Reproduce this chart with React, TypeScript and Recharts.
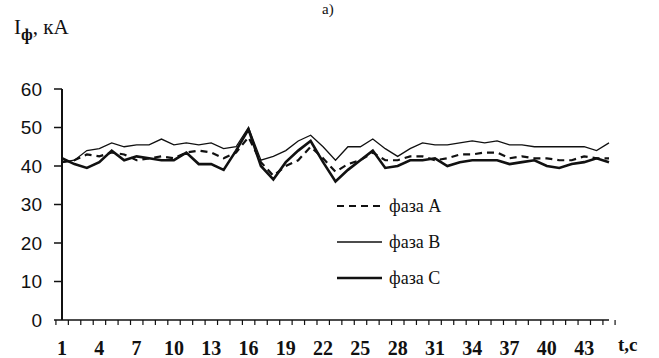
import React from 'react';
import { LineChart, Line, XAxis, YAxis, Legend } from 'recharts';

// time, s
const times = [
  1, 2, 3, 4, 5, 6, 7, 8, 9, 10, 11, 12, 13, 14, 15, 16, 17, 18, 19, 20, 21, 22, 23,
  24, 25, 26, 27, 28, 29, 30, 31, 32, 33, 34, 35, 36, 37, 38, 39, 40, 41, 42, 43, 44, 45,
];

// phase currents, kA
const phaseA = [
  41, 41.5, 43, 42.5, 43.5, 43, 41.5, 42, 42.5, 42, 43.5, 44, 43.5, 42, 43.5, 47.5, 41, 37.5,
  40, 41.5, 45, 42, 38.5, 40.5, 41.5, 43.5, 41.5, 41.5, 42.5, 42.5, 41.5, 42, 43, 43, 43.5,
  43.5, 42, 42.5, 42, 42, 41.5, 41.5, 42.5, 42, 42,
];
const phaseB = [
  41, 41.5, 44, 44.5, 46, 45, 45.5, 45.5, 47, 45.5, 46, 45.5, 46, 44.5, 45, 50, 41.5, 42.5,
  44, 46.5, 48, 45, 41.5, 45, 45, 47, 44.5, 42.5, 44.5, 46, 45.5, 45.5, 46, 46.5, 46, 46.5,
  45.5, 45.5, 45, 45, 45, 45, 45, 44, 46,
];
const phaseC = [
  42, 40.5, 39.5, 41, 44, 41.5, 42.5, 42, 41.5, 41.5, 43.5, 40.5, 40.5, 39, 44, 49.5, 40, 36.5,
  41, 44, 46.5, 41, 36, 39, 41.5, 44, 39.5, 40, 41.5, 41.5, 42, 40, 41, 41.5, 41.5, 41.5,
  40.5, 41, 41.5, 40, 39.5, 40.5, 41, 42, 41,
];

const yTicks = [0, 10, 20, 30, 40, 50, 60];
const names = ['фаза А', 'фаза В', 'фаза С'];

const data = times.map((t, i) => ({ t, a: phaseA[i], b: phaseB[i], c: phaseC[i] }));

const PLOT_LEFT = 62;
const PLOT_RIGHT = 609;
const band = (PLOT_RIGHT - PLOT_LEFT) / times.length;
const INK = '#111';

const lineStyles = [
  { key: 'a', width: 2.2, dash: '7 5' },
  { key: 'b', width: 1.3, dash: undefined },
  { key: 'c', width: 2.6, dash: undefined },
];

const XTick = (props: any) => {
  const { x, y, payload, index } = props;
  const left = x - band / 2;
  return (
    <g>
      <line x1={left} x2={left} y1={y} y2={y + 5} stroke={INK} strokeWidth={1.2} />
      {index === times.length - 1 && (
        <line x1={x + band / 2} x2={x + band / 2} y1={y} y2={y + 5} stroke={INK} strokeWidth={1.2} />
      )}
      {index % 3 === 0 && (
        <text
          x={x}
          y={y + 35}
          textAnchor="middle"
          fontFamily="'Liberation Serif', serif"
          fontSize={20}
          fontWeight="bold"
          fill={INK}
        >
          {payload.value}
        </text>
      )}
    </g>
  );
};

const LegendBox = () => (
  <div style={{ fontFamily: "'Liberation Serif', serif", fontSize: 18, color: INK }}>
    {names.map((n, i) => (
      <div key={n} style={{ display: 'flex', alignItems: 'center', height: 36 }}>
        <svg width={50} height={10}>
          <line
            x1={0}
            x2={45}
            y1={5}
            y2={5}
            stroke={INK}
            strokeWidth={lineStyles[i].width}
            strokeDasharray={lineStyles[i].dash}
          />
        </svg>
        <span style={{ marginLeft: 2 }}>{n}</span>
      </div>
    ))}
  </div>
);

export default function App() {
  return (
    <div style={{ position: 'fixed', left: 0, top: 0, width: 659, height: 358, background: '#fff' }}>
      <LineChart width={659} height={358} data={data} margin={{ top: 89, right: 659 - PLOT_RIGHT, bottom: 0, left: 0 }}>
        <XAxis
          dataKey="t"
          height={38}
          interval={0}
          tickSize={0}
          tickMargin={0}
          tickLine={false}
          tick={<XTick />}
          axisLine={{ stroke: INK, strokeWidth: 1.5 }}
        />
        <YAxis
          width={PLOT_LEFT}
          domain={[0, 60]}
          ticks={yTicks}
          tickSize={8}
          tickMargin={12}
          tickLine={{ stroke: INK, strokeWidth: 1.5 }}
          axisLine={{ stroke: INK, strokeWidth: 2 }}
          tick={{ fontFamily: "'Liberation Sans', Arial, sans-serif", fontSize: 19, fill: INK }}
        />
        <Legend
          layout="vertical"
          align="center"
          verticalAlign="middle"
          content={<LegendBox />}
          wrapperStyle={{ left: 337, top: 188, width: 'auto' }}
        />
        {lineStyles.map((s, i) => (
          <Line
            key={s.key}
            type="linear"
            dataKey={s.key}
            name={names[i]}
            stroke={INK}
            strokeWidth={s.width}
            strokeDasharray={s.dash}
            dot={false}
            isAnimationActive={false}
          />
        ))}
      </LineChart>
      <svg width={659} height={358} style={{ position: 'absolute', left: 0, top: 0, pointerEvents: 'none' }}>
        <text x={322} y={14} fontFamily="'Liberation Serif', serif" fontSize={15} fill={INK}>
          а)
        </text>
        <text x={14} y={34} fontFamily="'Liberation Serif', serif" fontSize={21} fill={INK}>
          I
          <tspan dy={6} fontSize={17} fontWeight="bold">ф</tspan>
          <tspan dy={-6}>, кА</tspan>
        </text>
        <text x={618} y={351} fontFamily="'Liberation Serif', serif" fontSize={19} fontWeight="bold" fill={INK}>
          t,c
        </text>
      </svg>
    </div>
  );
}
